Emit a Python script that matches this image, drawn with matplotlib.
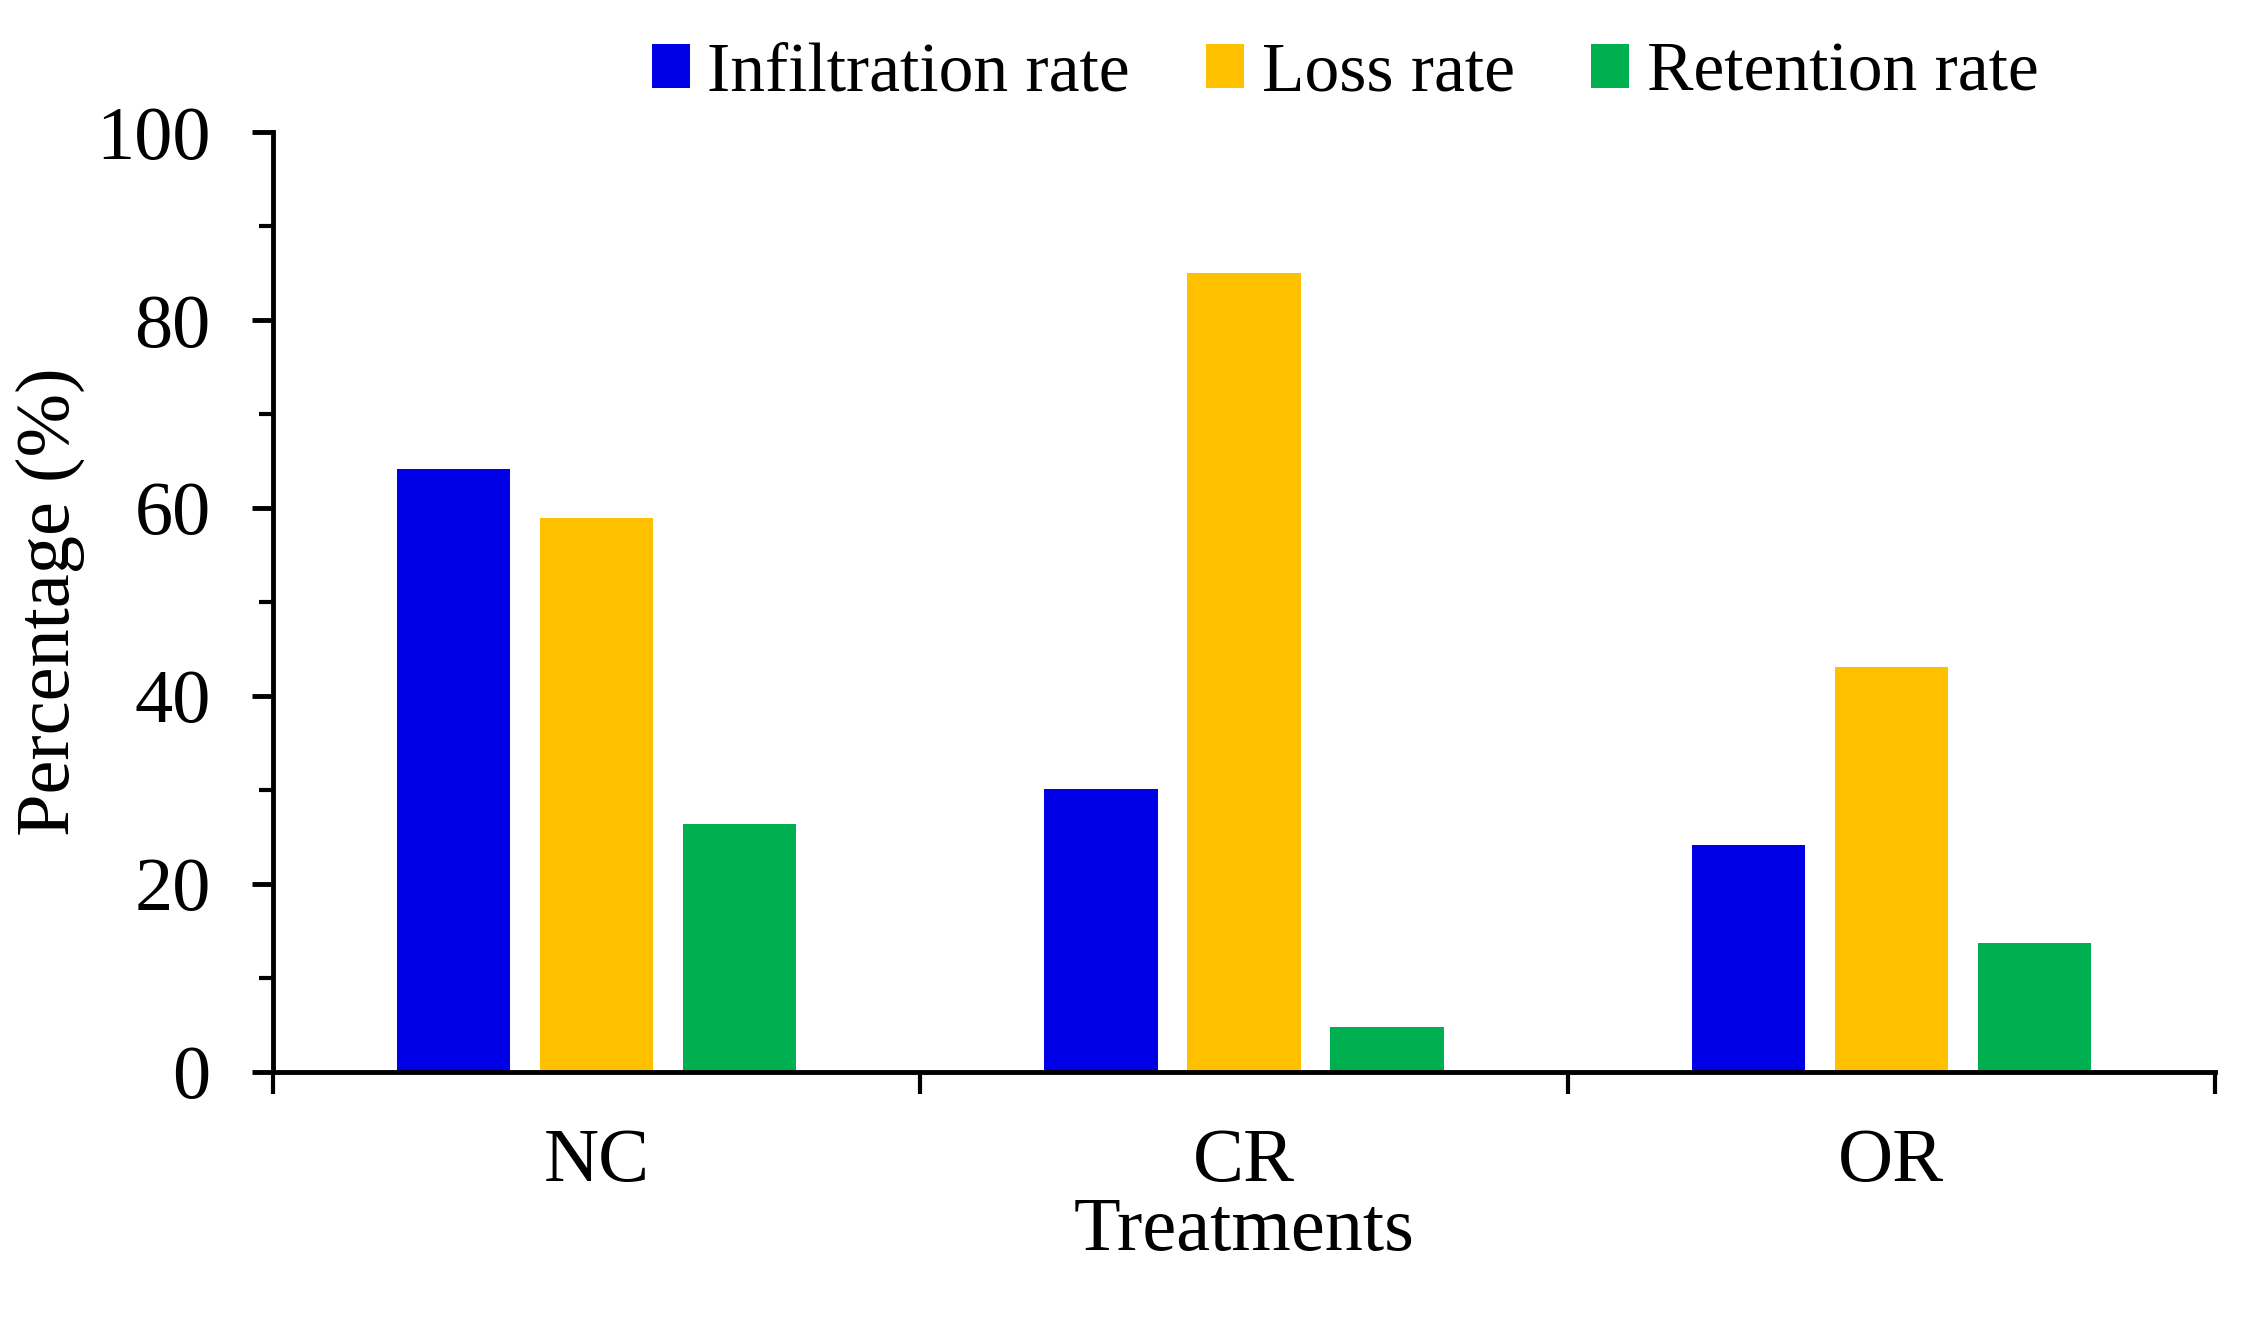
import numpy as np
from matplotlib import pyplot as plt
from matplotlib.ticker import MultipleLocator, FixedLocator

#Data
treatments = ["NC", "CR", "OR"]
infiltration = [64.1, 30.1, 24.1]
loss = [58.9, 85.0, 43.1]
retention = [26.4, 4.8, 13.7]

series = ["Infiltration rate", "Loss rate", "Retention rate"]
colors = ["#0000E6", "#FFC000", "#00B050"]

plt.rcParams['font.family'] = ['Liberation Serif', 'DejaVu Serif']

fig = plt.figure(figsize=(22.47, 13.19), dpi=100)
ax = fig.add_axes([0.1215, 0.1873, 0.8643, 0.7126])

x = np.arange(len(treatments))
w = 0.175
step = 0.221
for i, (vals, name, c) in enumerate(zip([infiltration, loss, retention], series, colors)):
    ax.bar(x + (i - 1) * step, vals, w, color=c, label=name)

ax.set_xlim(-0.5, 2.5)
ax.set_ylim(0, 100)

#Spines
ax.spines['top'].set_visible(False)
ax.spines['right'].set_visible(False)
ax.spines['left'].set_linewidth(3.5)
ax.spines['bottom'].set_linewidth(3.5)

#Y ticks
ax.yaxis.set_major_locator(MultipleLocator(20))
ax.yaxis.set_minor_locator(MultipleLocator(10))
ax.tick_params(axis='y', which='major', direction='out', length=15, width=3.5, labelsize=55, pad=30)
ax.tick_params(axis='y', which='minor', direction='out', length=10, width=3)

#X ticks: labels at centers, marks at group boundaries
ax.set_xticks(x)
ax.set_xticklabels(treatments)
ax.xaxis.set_minor_locator(FixedLocator([-0.5, 0.5, 1.5, 2.5]))
ax.tick_params(axis='x', which='major', length=0, labelsize=55, pad=40)
ax.tick_params(axis='x', which='minor', direction='out', length=16, width=3)

ax.set_xlabel("Treatments", fontsize=55, labelpad=0)
ax.set_ylabel("Percentage (%)", fontsize=55, labelpad=8)

ax.legend(loc='center', bbox_to_anchor=(0.552, 1.062), ncol=3, frameon=False,
          fontsize=50, handlelength=0.55, handleheight=0.6, handletextpad=0.25,
          columnspacing=1.1, borderaxespad=0)

fig.savefig("out.png", dpi=100)
